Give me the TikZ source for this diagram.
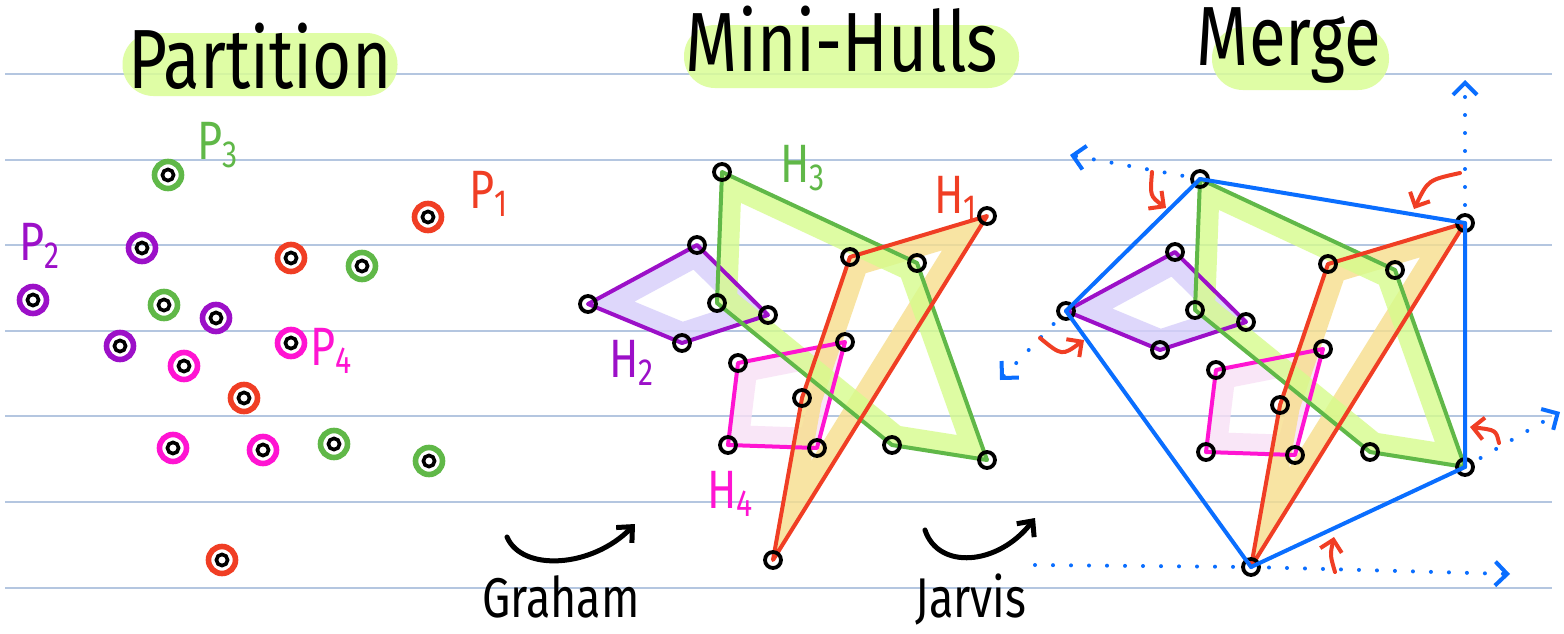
\documentclass[tikz,border=0pt]{standalone}
\usepackage{fontspec}
\setmainfont{Fira Sans}
\newfontfamily\handfont{Fira Sans}[FakeStretch=0.8]
\usetikzlibrary{arrows.meta}

\definecolor{ruleblue}{RGB}{180,198,224}
\definecolor{hilite}{RGB}{218,253,150}
\definecolor{hgreen}{RGB}{96,184,72}
\definecolor{hred}{RGB}{240,62,36}
\definecolor{hpurple}{RGB}{156,16,200}
\definecolor{hpink}{RGB}{255,20,210}
\definecolor{hblue}{RGB}{10,110,255}
\definecolor{bandgreen}{RGB}{214,252,140}
\definecolor{bandred}{RGB}{247,222,140}
\definecolor{bandpurple}{RGB}{214,206,250}
\definecolor{bandpink}{RGB}{248,224,245}

\tikzset{
    rule/.style={draw=ruleblue, line width=0.7pt},
    pill/.style={fill=hilite, fill opacity=0.85, rounded corners=15.5pt,
        minimum height=31.5pt, inner sep=0pt},
    title/.style={anchor=base, font=\handfont\fontsize{42}{42}\selectfont},
    caption/.style={anchor=base, font=\handfont\fontsize{28}{28}\selectfont},
    setlabel/.style={anchor=base west, text=#1, font=\handfont\fontsize{27}{27}\selectfont},
    ring/.style={circle, draw=#1, line width=2.8pt, minimum size=13.5pt, inner sep=0pt,
        path picture={\draw[black, line width=1.8pt] (path picture bounding box.center) circle (2.8pt);}},
    vtx/.style={circle, draw=black, line width=1.9pt, minimum size=8pt, inner sep=0pt},
    band/.style={draw=#1, draw opacity=0.8, line width=20pt, line join=round},
    hull/.style={draw=#1, line width=2pt, line join=round},
    ray/.style={hblue, line width=2pt, line cap=round, dash pattern=on 0pt off 9pt,
        -{Straight Barb[length=6pt, width=12pt, line width=2pt]}},
    turn/.style={hred, line width=2pt, line cap=round,
        -{Straight Barb[length=5.5pt, width=11pt, line width=2pt]}},
    sweep/.style={black, line width=2.5pt, line cap=round,
        -{Straight Barb[length=6pt, width=11pt, line width=2.5pt]}}
}

% the four mini hulls, names prefixed with #1
\newcommand{\minihulls}[1]{%
    \coordinate (#1h1a) at (850,257);
    \coordinate (#1h1b) at (987,216);
    \coordinate (#1h1c) at (773,560);
    \coordinate (#1h1d) at (802,398);
    \coordinate (#1h2a) at (588,304);
    \coordinate (#1h2b) at (697,245);
    \coordinate (#1h2c) at (768,315);
    \coordinate (#1h2d) at (682,343);
    \coordinate (#1h3a) at (722,172);
    \coordinate (#1h3b) at (917,263);
    \coordinate (#1h3c) at (987,460);
    \coordinate (#1h3d) at (892,445);
    \coordinate (#1h3e) at (717,303);
    \coordinate (#1h4a) at (738,363);
    \coordinate (#1h4b) at (845,342);
    \coordinate (#1h4c) at (817,448);
    \coordinate (#1h4d) at (728,445);
    % bands on the inner side
    \begin{scope}
        \clip (#1h2a) -- (#1h2b) -- (#1h2c) -- (#1h2d) -- cycle;
        \draw[band=bandpurple] (#1h2a) -- (#1h2b) -- (#1h2c) -- (#1h2d) -- cycle;
    \end{scope}
    \begin{scope}
        \clip (#1h4a) -- (#1h4b) -- (#1h4c) -- (#1h4d) -- cycle;
        \draw[band=bandpink] (#1h4a) -- (#1h4b) -- (#1h4c) -- (#1h4d) -- cycle;
    \end{scope}
    \begin{scope}
        \clip (#1h1a) -- (#1h1b) -- (#1h1c) -- (#1h1d) -- cycle;
        \draw[band=bandred] (#1h1a) -- (#1h1b) -- (#1h1c) -- (#1h1d) -- cycle;
    \end{scope}
    \begin{scope}
        \clip (#1h3a) -- (#1h3b) -- (#1h3c) -- (#1h3d) -- (#1h3e) -- cycle;
        \draw[band=bandgreen] (#1h3a) -- (#1h3b) -- (#1h3c) -- (#1h3d) -- (#1h3e) -- cycle;
    \end{scope}
    \draw[hull=hpurple] (#1h2a) -- (#1h2b) -- (#1h2c) -- (#1h2d) -- cycle;
    \draw[hull=hpink] (#1h4a) -- (#1h4b) -- (#1h4c) -- (#1h4d) -- cycle;
    \draw[hull=hgreen] (#1h3a) -- (#1h3b) -- (#1h3c) -- (#1h3d) -- (#1h3e) -- cycle;
    \draw[hull=hred] (#1h1a) -- (#1h1b) -- (#1h1c) -- (#1h1d) -- cycle;
    \foreach \v in {h1a,h1b,h1c,h1d,h2a,h2b,h2c,h2d,h3a,h3b,h3c,h3d,h3e,h4a,h4b,h4c,h4d}
        \node[vtx] (#1ring\v) at (#1\v) {};
}

\begin{document}
\begin{tikzpicture}[x=0.5pt, y=-0.5pt]
    \useasboundingbox (0,0) rectangle (1564,633);
    \fill[white] (0,0) rectangle (1564,633);

    % ruled paper
    \foreach \y in {74,160,245,331,416,502,588}
        \draw[rule] (5,\y) -- (1552,\y);

    % titles
    \node[pill, minimum width=137.5pt] (partitionpill) at (260,64.5) {};
    \node[title] (partition) at (260,88) {Partition};
    \node[pill, minimum width=167.5pt] (minipill) at (851.5,56.5) {};
    \node[title] (minihulls) at (842,71) {Mini-Hulls};
    \node[pill, minimum width=88.5pt] (mergepill) at (1300.5,58.5) {};
    \node[title] (merge) at (1289,65) {Merge};

    % partition
    \node[ring=hgreen] (p3a) at (168,175) {};
    \node[ring=hred] (p1a) at (428,217) {};
    \node[ring=hpurple] (p2a) at (142,248) {};
    \node[ring=hred] (p1b) at (291,258) {};
    \node[ring=hgreen] (p3b) at (362,266) {};
    \node[ring=hpurple] (p2b) at (33,300) {};
    \node[ring=hgreen] (p3c) at (164,305) {};
    \node[ring=hpurple] (p2c) at (216,318) {};
    \node[ring=hpurple] (p2d) at (120,346) {};
    \node[ring=hpink] (p4a) at (184,366) {};
    \node[ring=hpink] (p4b) at (291,343) {};
    \node[ring=hred] (p1c) at (244,398) {};
    \node[ring=hpink] (p4c) at (173,448) {};
    \node[ring=hpink] (p4d) at (263,450) {};
    \node[ring=hgreen] (p3d) at (334,444) {};
    \node[ring=hgreen] (p3e) at (429,461) {};
    \node[ring=hred] (p1d) at (222,560) {};
    \node[setlabel=hred] (labp1) at (462,208) {P\textsubscript{1}};
    \node[setlabel=hpurple] (labp2) at (12,260) {P\textsubscript{2}};
    \node[setlabel=hgreen] (labp3) at (190,159) {P\textsubscript{3}};
    \node[setlabel=hpink] (labp4) at (303,365) {P\textsubscript{4}};

    % mini hulls
    \minihulls{}
    \node[setlabel=hred] (labh1) at (927,213) {H\textsubscript{1}};
    \node[setlabel=hpurple] (labh2) at (602,377) {H\textsubscript{2}};
    \node[setlabel=hgreen] (labh3) at (773,182) {H\textsubscript{3}};
    \node[setlabel=hpink] (labh4) at (700,508) {H\textsubscript{4}};

    % step arrows
    \coordinate (grahamstart) at (507,537);
    \coordinate (grahamend) at (635,524);
    \draw[sweep] (grahamstart) .. controls (522,572) and (592,568) .. (grahamend);
    \node[caption] (graham) at (561,617) {Graham};
    \coordinate (jarvisstart) at (925,530);
    \coordinate (jarvisend) at (1035,518);
    \draw[sweep] (jarvisstart) .. controls (938,570) and (998,566) .. (jarvisend);
    \node[caption] (jarvis) at (971,617) {Jarvis};

    % merge
    \begin{scope}[shift={(478,7)}]
        \minihulls{m}
    \end{scope}
    \draw[hblue, line width=2pt, line join=round]
        (mh2a) -- (mh3a) -- (mh1b) -- (mh3c) -- (mh1c) -- cycle;
    \coordinate (rayleft) at (1070,155);
    \coordinate (rayup) at (1465,80);
    \coordinate (raydown) at (1000,380);
    \coordinate (rayright) at (1560,412);
    \coordinate (baseleft) at (1035,565);
    \coordinate (baseright) at (1510,574);
    \draw[ray] (mh3a) -- (rayleft);
    \draw[ray] (mh1b) -- (rayup);
    \draw[ray] (mh2a) -- (raydown);
    \draw[ray] (mh3c) -- (rayright);
    \draw[ray] (baseleft) -- (mh1c) -- (baseright);
    \coordinate (t1a) at (1152,172);
    \coordinate (t1b) at (1166,208);
    \coordinate (t2a) at (1460,173);
    \coordinate (t2b) at (1414,209);
    \coordinate (t3a) at (1040,338);
    \coordinate (t3b) at (1084,340);
    \coordinate (t4a) at (1499,443);
    \coordinate (t4b) at (1470,427);
    \coordinate (t5a) at (1335,572);
    \coordinate (t5b) at (1334,537);
    \draw[turn] (t1a) .. controls (1150,196) .. (t1b);
    \draw[turn] (t2a) .. controls (1428,180) .. (t2b);
    \draw[turn] (t3a) .. controls (1062,356) .. (t3b);
    \draw[turn] (t4a) .. controls (1496,430) .. (t4b);
    \draw[turn] (t5a) .. controls (1330,555) .. (t5b);
\end{tikzpicture}
\end{document}
